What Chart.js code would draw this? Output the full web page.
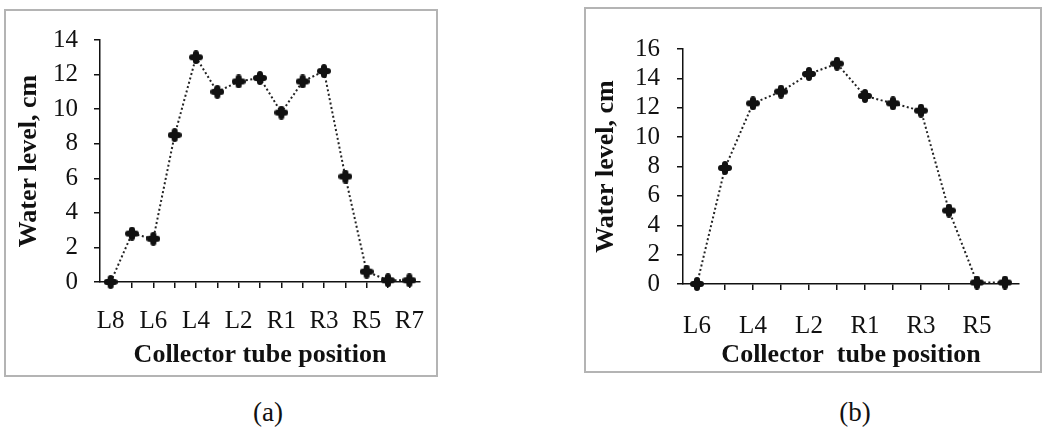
<!DOCTYPE html>
<html lang="en">
<head>
    <meta charset="UTF-8" />
    <title>Water level</title>
    <script src="https://cdn.jsdelivr.net/npm/chart.js"></script>
    <style>
        body {
            margin: 0;
            width: 1044px;
            height: 430px;
            background: #fff;
            position: relative;
            overflow: hidden;
            font-family: "Liberation Serif", serif;
        }

        .box {
            position: absolute;
            border: 2px solid #b4b4b4;
            box-sizing: border-box;
        }

        .box canvas {
            display: block;
        }

        .caption {
            position: absolute;
            font-size: 27px;
            color: #111;
            transform: translate(-50%, -50%);
        }
    </style>
</head>

<body>
    <div class="box" style="left:4px;top:9px;width:434px;height:368px;">
        <canvas id="chartA" width="430" height="364"></canvas>
    </div>
    <div class="box" style="left:584px;top:7px;width:458px;height:366px;">
        <canvas id="chartB" width="454" height="362"></canvas>
    </div>
    <div class="caption" style="left:268px;top:412px;">(a)</div>
    <div class="caption" style="left:855px;top:412px;">(b)</div>

    <script>
        // (a) collector tubes L8..R7
        const positionsA = ["L8", "L7", "L6", "L5", "L4", "L3", "L2", "L1", "R1", "R2", "R3", "R4", "R5", "R6", "R7"];
        const levelsA = [0, 2.8, 2.5, 8.5, 13, 11, 11.6, 11.8, 9.8, 11.6, 12.2, 6.1, 0.6, 0.1, 0.1];

        // (b) collector tubes L6..R6
        const positionsB = ["L6", "L5", "L4", "L3", "L2", "L1", "R1", "R2", "R3", "R4", "R5", "R6"];
        const levelsB = [0, 7.9, 12.3, 13.1, 14.3, 15, 12.8, 12.3, 11.8, 5, 0.1, 0.1];

        const xTitleA = "Collector tube position";
        const xTitleB = "Collector  tube position";
        const yTitle = "Water level, cm";

        const marker = MakeMarker();

        CreateChart("chartA", positionsA, levelsA, 14, xTitleA, {
            yWidth: 94, xHeight: 93, top: 29, right: 16,
            yTitlePad: 8, yTickPad: 16, xTickPad: 18, xTitlePad: 4
        });
        CreateChart("chartB", positionsB, levelsB, 16, xTitleB, {
            yWidth: 97, xHeight: 87, top: 40, right: 21,
            yTitlePad: 5, yTickPad: 17, xTickPad: 21, xTitlePad: 0
        });

        function MakeMarker() {
            const c = document.createElement('canvas');
            c.width = 14;
            c.height = 14;
            const g = c.getContext('2d');
            g.fillStyle = '#111';
            g.strokeStyle = '#111';
            g.lineWidth = 6;
            g.lineCap = 'round';
            g.beginPath();
            g.moveTo(7, 3); g.lineTo(7, 11);
            g.moveTo(3, 7); g.lineTo(11, 7);
            g.stroke();
            g.beginPath();
            g.arc(7, 7, 4.5, 0, Math.PI * 2);
            g.fill();
            return c;
        }

        function FixSize(scale, key, value) {
            scale[key] = value;
            scale.paddingLeft = 0;
            scale.paddingRight = 0;
            scale.paddingTop = 0;
            scale.paddingBottom = 0;
        }

        function CreateChart(id, labels, values, yMax, xTitle, g) {
            const font = { family: "'Liberation Serif'", size: 25 };
            const bold = { family: "'Liberation Serif'", size: 26, weight: "bold" };

            const config = {
                type: 'line',
                data: {
                    labels: labels,
                    datasets: [{
                        data: values,
                        borderColor: '#222',
                        borderWidth: 2,
                        borderDash: [2, 2.5],
                        tension: 0,
                        pointStyle: marker,
                        pointRadius: 7,
                        clip: false
                    }]
                },
                options: {
                    responsive: false,
                    animation: false,
                    layout: {
                        padding: { left: 0, top: g.top, right: g.right, bottom: 0 }
                    },
                    plugins: {
                        legend: { display: false },
                        tooltip: { enabled: false }
                    },
                    scales: {
                        x: {
                            offset: true,
                            grid: {
                                drawOnChartArea: false,
                                tickLength: 6,
                                color: '#111',
                                lineWidth: 1.5
                            },
                            border: { color: '#111', width: 1.5 },
                            ticks: {
                                autoSkip: false,
                                maxRotation: 0,
                                padding: g.xTickPad,
                                color: '#111',
                                font: font,
                                callback: function (v, i) {
                                    return i % 2 === 0 ? this.getLabelForValue(v) : '';
                                }
                            },
                            title: {
                                display: true,
                                text: xTitle,
                                color: '#111',
                                font: bold,
                                padding: { top: 0, bottom: g.xTitlePad }
                            },
                            afterFit: s => FixSize(s, 'height', g.xHeight)
                        },
                        y: {
                            min: 0,
                            max: yMax,
                            grid: {
                                drawOnChartArea: false,
                                tickLength: 6,
                                color: '#111',
                                lineWidth: 1.5
                            },
                            border: { color: '#111', width: 1.5 },
                            ticks: {
                                stepSize: 2,
                                autoSkip: false,
                                padding: g.yTickPad,
                                color: '#111',
                                font: font
                            },
                            title: {
                                display: true,
                                text: yTitle,
                                color: '#111',
                                font: bold,
                                padding: { top: g.yTitlePad, bottom: 0 }
                            },
                            afterFit: s => FixSize(s, 'width', g.yWidth)
                        }
                    }
                }
            };

            new Chart(document.getElementById(id), config);
        }
    </script>
</body>
</html>
